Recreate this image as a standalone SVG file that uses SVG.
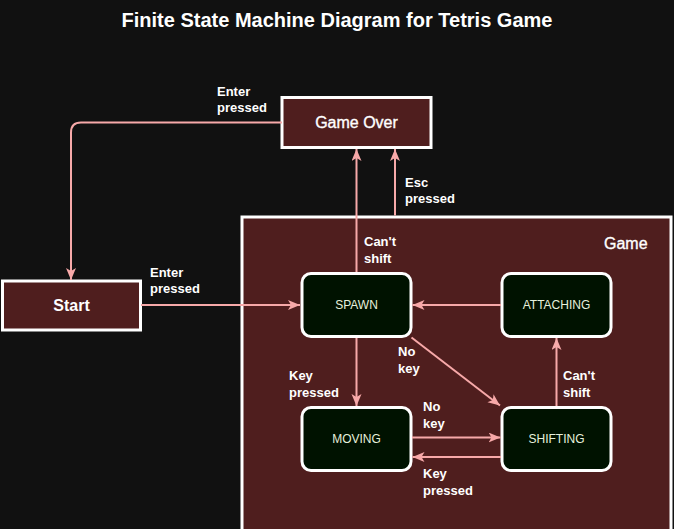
<svg xmlns="http://www.w3.org/2000/svg" width="674" height="529" viewBox="0 0 674 529">
<defs>
<style>
.bg{fill:#111111}
.box{fill:#4f1e1e;stroke:#ffffff;stroke-width:3}
.state{fill:#001200;stroke:#ffffff;stroke-width:3}
.edge{fill:none;stroke:#f7a9a9;stroke-width:2}
.lbl{font-family:"Liberation Sans",Arial,sans-serif;font-size:13px;font-weight:bold;fill:#ffffff}
.stxt{font-family:"Liberation Sans",Arial,sans-serif;font-size:12px;fill:#e6f0dc;text-anchor:middle}
.ntxt{font-family:"Liberation Sans",Arial,sans-serif;font-size:16px;fill:#ffffff;stroke:#ffffff;stroke-width:0.35;text-anchor:middle}
.title{font-family:"Liberation Sans",Arial,sans-serif;font-size:20px;font-weight:bold;fill:#ffffff;text-anchor:middle}
</style>
<marker id="arr" markerUnits="userSpaceOnUse" markerWidth="13" markerHeight="11" refX="12" refY="5" orient="auto" viewBox="0 0 13 11">
<path d="M0,0 L12,5 L0,10 L3,5 Z" fill="#f7a9a9"/>
</marker>
</defs>
<rect class="bg" x="0" y="0" width="674" height="529"/>
<text class="title" x="337" y="27">Finite State Machine Diagram for Tetris Game</text>

<g id="game">
<rect class="box" x="242" y="217" width="429" height="320"/>
<text class="ntxt" x="604" y="249" style="text-anchor:start">Game</text>
</g>
<g id="gameover">
<rect class="box" x="282" y="97.5" width="149" height="50"/>
<text class="ntxt" x="356.5" y="128">Game Over</text>
</g>
<g id="start">
<rect class="box" x="2.5" y="281" width="138" height="49"/>
<text class="ntxt" x="71.5" y="311" style="font-weight:bold;stroke-width:0">Start</text>
</g>
<g id="spawn">
<rect class="state" x="302" y="273.5" width="109" height="63" rx="9"/>
<text class="stxt" x="356.5" y="309">SPAWN</text>
</g>
<g id="attaching">
<rect class="state" x="502" y="273.5" width="109" height="63" rx="9"/>
<text class="stxt" x="556.5" y="309">ATTACHING</text>
</g>
<g id="moving">
<rect class="state" x="302" y="407.5" width="109" height="63" rx="9"/>
<text class="stxt" x="356.5" y="443">MOVING</text>
</g>
<g id="shifting">
<rect class="state" x="502" y="407.5" width="109" height="63" rx="9"/>
<text class="stxt" x="556.5" y="443">SHIFTING</text>
</g>

<g id="connectors">
<path class="edge" d="M282,122.5 H81 Q71,122.5 71,132.5 V280" marker-end="url(#arr)"/>
<path class="edge" d="M141,305 H300" marker-end="url(#arr)"/>
<path class="edge" d="M356.5,272 V149" marker-end="url(#arr)"/>
<path class="edge" d="M395,215.5 V149" marker-end="url(#arr)"/>
<path class="edge" d="M501,305 H412.5" marker-end="url(#arr)"/>
<path class="edge" d="M356.5,338 V406" marker-end="url(#arr)"/>
<path class="edge" d="M411.5,337.5 L500,405.5" marker-end="url(#arr)"/>
<path class="edge" d="M412,437.5 H500.5" marker-end="url(#arr)"/>
<path class="edge" d="M501,457 H412.5" marker-end="url(#arr)"/>
<path class="edge" d="M556.5,406 V338" marker-end="url(#arr)"/>
</g>

<g id="labels">
<text class="lbl" x="217" y="95.5">Enter<tspan x="217" dy="16">pressed</tspan></text>
<text class="lbl" x="150" y="277">Enter<tspan x="150" dy="16">pressed</tspan></text>
<text class="lbl" x="364" y="246">Can't<tspan x="364" dy="16.5">shift</tspan></text>
<text class="lbl" x="405" y="187">Esc<tspan x="405" dy="16">pressed</tspan></text>
<text class="lbl" x="398" y="356">No<tspan x="398" dy="16.5">key</tspan></text>
<text class="lbl" x="289" y="380">Key<tspan x="289" dy="16.5">pressed</tspan></text>
<text class="lbl" x="423" y="411">No<tspan x="423" dy="16.5">key</tspan></text>
<text class="lbl" x="563" y="380">Can't<tspan x="563" dy="16.5">shift</tspan></text>
<text class="lbl" x="423" y="478">Key<tspan x="423" dy="16.5">pressed</tspan></text>
</g>
</svg>
